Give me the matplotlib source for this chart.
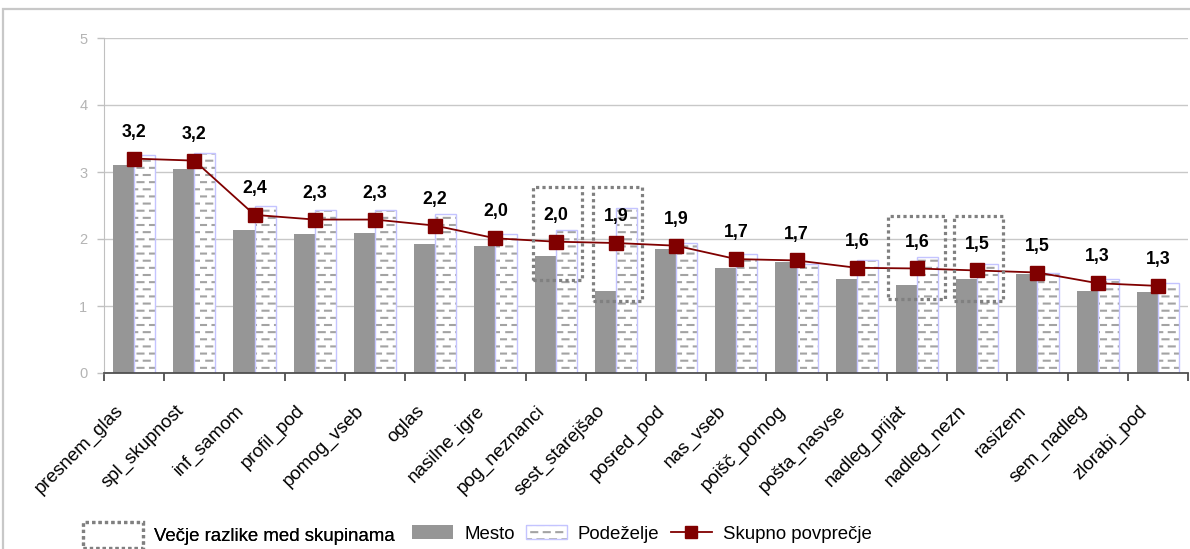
import numpy as np
import matplotlib
matplotlib.use("Agg")
import matplotlib.pyplot as plt
import matplotlib.hatch as mhatch
from matplotlib.path import Path
from matplotlib.patches import Rectangle, Patch
from matplotlib.lines import Line2D
from matplotlib.legend_handler import HandlerTuple
from matplotlib.transforms import ScaledTranslation

# ---------------- data ----------------
categories = ["presnem_glas", "spl_skupnost", "inf_samom", "profil_pod", "pomog_vseb",
              "oglas", "nasilne_igre", "pog_neznanci", "sest_starejšao", "posred_pod",
              "nas_vseb", "poišč_pornog", "pošta_nasvse", "nadleg_prijat", "nadleg_nezn",
              "rasizem", "sem_nadleg", "zlorabi_pod"]
mesto = [3.10, 3.04, 2.13, 2.07, 2.09, 1.93, 1.90, 1.74, 1.23, 1.85,
         1.57, 1.66, 1.40, 1.31, 1.40, 1.48, 1.23, 1.21]
podezelje = [3.26, 3.29, 2.50, 2.44, 2.44, 2.38, 2.07, 2.13, 2.46, 1.94,
             1.77, 1.62, 1.69, 1.73, 1.63, 1.50, 1.41, 1.35]
skupno = [3.20, 3.17, 2.36, 2.29, 2.29, 2.20, 2.01, 1.96, 1.94, 1.90,
          1.70, 1.68, 1.57, 1.56, 1.53, 1.50, 1.34, 1.30]
yticks = [0, 1, 2, 3, 4, 5]

# categories flagged with larger differences between groups (annotation boxes)
box_cats = [7, 8, 13, 14]
box_y_low = [1.39, 1.08, 1.10, 1.08]
box_y_high = [2.78, 2.78, 2.35, 2.35]
box_x_left = [-0.37, -0.38, -0.48, -0.39]
box_x_right = [0.43, 0.43, 0.46, 0.42]

legend_labels = ["Večje razlike med skupinama", "Mesto", "Podeželje", "Skupno povprečje"]


# ---------------- custom dashed "brick" hatch for '-' ----------------
class BrickDashHatch(mhatch.HatchPatternBase):
    rows = 14
    cols = 8

    def __init__(self, hatch, density):
        self.on = '-' in hatch
        self.num_vertices = self.rows * self.cols * 2 if self.on else 0

    def set_vertices_and_codes(self, vertices, codes):
        k = 0
        for i in range(self.rows):
            y = (i + 0.5) / self.rows
            off = 0.5 * (i % 2)
            for j in range(self.cols):
                x0 = (j + off) / self.cols
                vertices[k] = (x0, y)
                vertices[k + 1] = (x0 + 0.06, y)
                codes[k] = Path.MOVETO
                codes[k + 1] = Path.LINETO
                k += 2


mhatch._hatch_types = [BrickDashHatch if t is mhatch.HorizontalHatch else t
                       for t in mhatch._hatch_types]

plt.rcParams['font.family'] = ['Liberation Sans', 'DejaVu Sans']
plt.rcParams['hatch.linewidth'] = 1.5

leg_size = 13.4

W, H = 1190, 549
fig = plt.figure(figsize=(W / 100, H / 100), dpi=100)
ax = fig.add_axes([104 / W, 1 - 373 / H, (1188 - 104) / W, (373 - 38) / H])

x = np.arange(len(categories))
bw = 0.35
grey = '#969696'
lav = '#c4c4ff'
dash_col = '#a3a3a3'
dark_red = '#800000'

ax.bar(x - bw / 2, mesto, width=bw, color=grey, edgecolor='none', zorder=2)
ax.bar(x + bw / 2, podezelje, width=bw, facecolor='white', edgecolor=dash_col,
       hatch='-', linewidth=0, zorder=2)
ax.bar(x + bw / 2, podezelje, width=bw, facecolor='none', edgecolor=lav,
       linewidth=1.0, zorder=2.1)

ax.plot(x, skupno, color=dark_red, lw=1.3, marker='s', markersize=9.5,
        markerfacecolor=dark_red, markeredgecolor=dark_red, zorder=4)

for xi, v in zip(x, skupno):
    ax.annotate(f"{v:.1f}".replace('.', ','), (xi, v), xytext=(0, 19),
                textcoords='offset points', ha='center', va='center',
                fontsize=12.8, fontweight='bold', color='black', zorder=5)

for c, lo, hi, xl, xr in zip(box_cats, box_y_low, box_y_high, box_x_left, box_x_right):
    ax.add_patch(Rectangle((c + xl, lo), xr - xl, hi - lo, fill=False,
                           edgecolor='#808080', lw=2.3, linestyle=(0, (1, 1)),
                           zorder=6, clip_on=False))

ax.set_xlim(-0.5, len(categories) - 0.5)
ax.set_ylim(0, 5)
ax.set_yticks(yticks)
ax.yaxis.grid(True, color='#c8c8c8', lw=1.0)
ax.set_axisbelow(True)

ax.set_xticks(x)
ax.set_xticklabels(categories, rotation=45, ha='right', va='top',
                   rotation_mode='anchor', fontsize=13.5)
ax.tick_params(axis='x', which='major', length=0, pad=21)
shift = ScaledTranslation(-14 / 72, 0, fig.dpi_scale_trans)
for lbl in ax.get_xticklabels():
    lbl.set_transform(lbl.get_transform() + shift)
ax.set_xticks(np.arange(-0.5, len(categories)), minor=True)
ax.tick_params(axis='x', which='minor', length=6, width=1.2, color='#404040',
               direction='out')
ax.tick_params(axis='y', length=5, width=1, color='#c0c0c0', labelcolor='#b4b4b4',
               labelsize=10.5, pad=7)

for s in ['top', 'right']:
    ax.spines[s].set_visible(False)
ax.spines['left'].set_color('#c0c0c0')
ax.spines['bottom'].set_color('#505050')
ax.spines['bottom'].set_linewidth(1.3)
ax.spines['bottom'].set_zorder(3)

# outer frame
fig.patches.append(Rectangle((3 / W, -0.2), 1.2, (1 - 8.5 / H) + 0.2,
                             transform=fig.transFigure, fill=False,
                             edgecolor='#c8c8c8', lw=1.6, zorder=0))

# legends
box_handle = Patch(facecolor='none', edgecolor='#808080', lw=2.3, linestyle=(0, (1, 1)))
leg1 = fig.legend([box_handle], [legend_labels[0]], loc='center left',
                  bbox_to_anchor=(83 / W, 1 - 535 / H), frameon=False,
                  borderpad=0, borderaxespad=0, handlelength=3.2, handleheight=1.7,
                  handletextpad=0.6, prop={'size': leg_size})
fig.add_artist(leg1)

mesto_h = Patch(facecolor=grey, edgecolor='none')
pod_h = (Patch(facecolor='white', edgecolor=dash_col, hatch='-', lw=0),
         Patch(facecolor='none', edgecolor=lav, lw=1.0))
line_h = Line2D([], [], color=dark_red, lw=1.3, marker='s', markersize=9,
                markerfacecolor=dark_red, markeredgecolor=dark_red)
leg2 = fig.legend([mesto_h, pod_h, line_h], legend_labels[1:], loc='center left',
                  bbox_to_anchor=(412 / W, 1 - 534 / H), frameon=False, ncol=3,
                  borderpad=0, borderaxespad=0, handlelength=2.2, handleheight=0.7,
                  handletextpad=0.6, columnspacing=0.6,
                  handler_map={tuple: HandlerTuple(ndivide=1)},
                  prop={'size': leg_size})

fig.savefig('out.png', dpi=100)
